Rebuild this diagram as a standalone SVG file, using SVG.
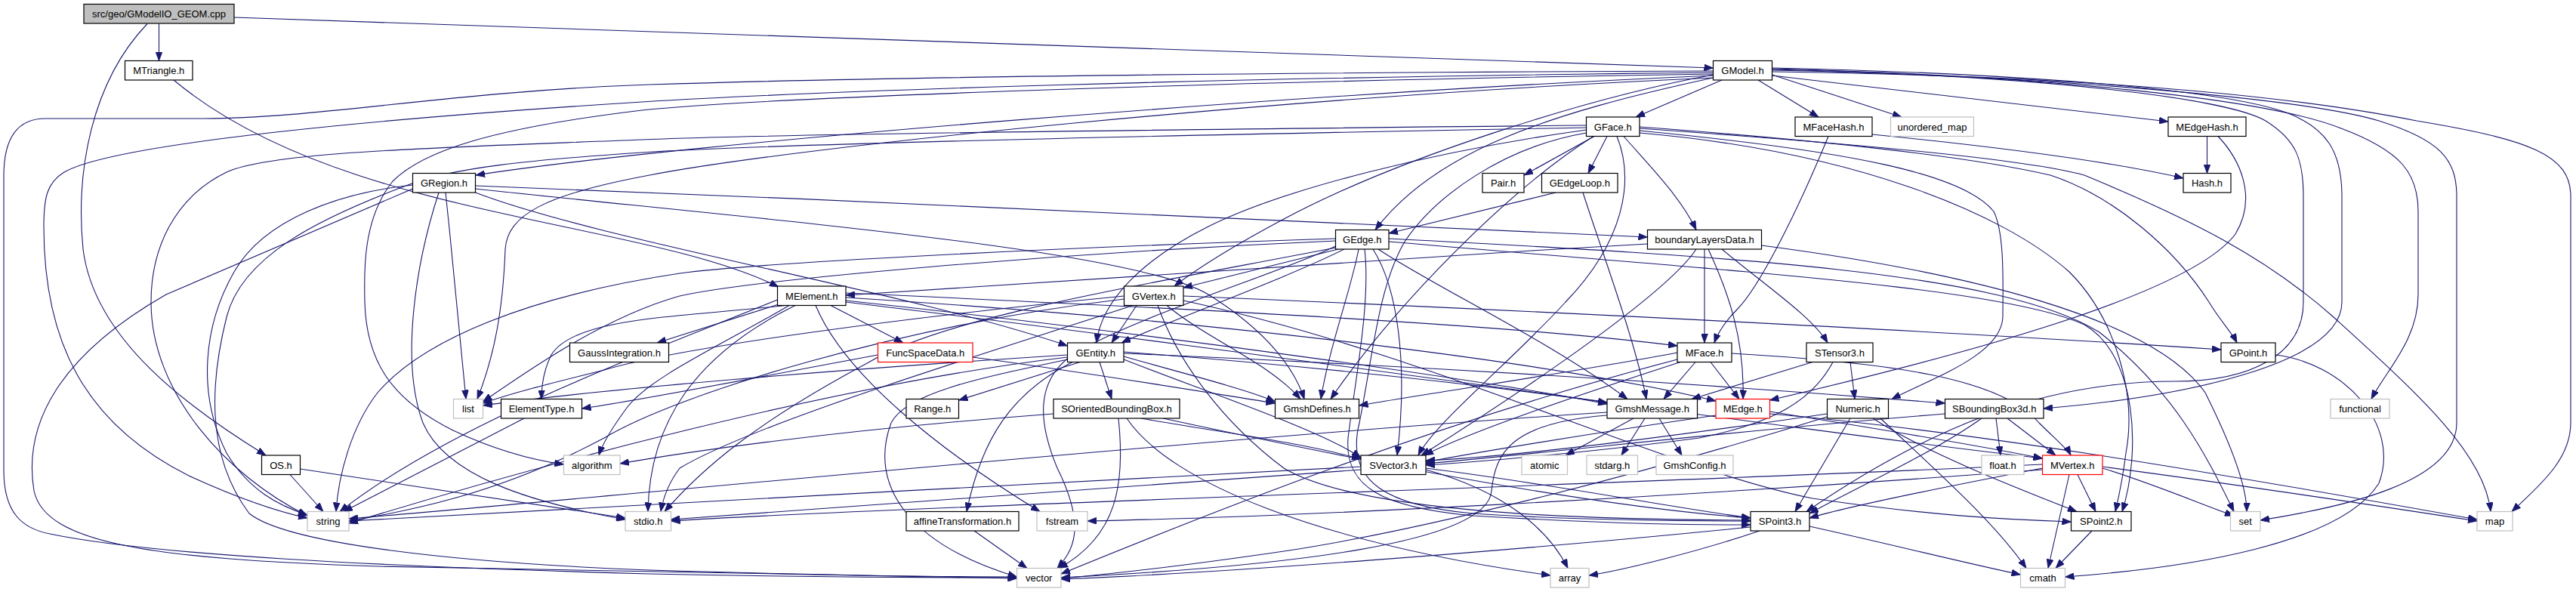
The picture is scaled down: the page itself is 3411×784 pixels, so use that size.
<svg xmlns="http://www.w3.org/2000/svg" width="3411" height="784" viewBox="0 0 3411 784">
<style>
.node rect{fill:#ffffff;stroke:#000000;stroke-width:1.2}
.node.sys rect{stroke:#bfbfbf}
.node.red rect{stroke:#ff0000}
.node.root rect{fill:#bfbfbf}
.node text{font-family:"Liberation Sans",Arial,sans-serif;font-size:13px;fill:#000000;text-anchor:middle}
#edges path{fill:none;stroke:#191970;stroke-width:1.1;marker-end:url(#ah)}
</style>
<defs>
<marker id="ah" markerUnits="userSpaceOnUse" markerWidth="12" markerHeight="9" viewBox="0 0 12 9" refX="12" refY="4.5" orient="auto"><path d="M0,0 L12,4.5 L0,9 z" fill="#191970" stroke="#191970" stroke-width="0.8"/></marker>
</defs>
<rect x="0" y="0" width="3411" height="784" fill="#ffffff"/>
<g id="edges">
<path d="M210.5,31.5 L210.5,80.5"/>
<path d="M310,23 L2268.5,90"/>
<path d="M195,31.5 C120,110 100,230 110,330 C125,450 250,540 352,603"/>
<path d="M230,106 C450,290 850,290 1031,380"/>
<path d="M2280,106 L2166,155"/>
<path d="M2328,106 L2408,155"/>
<path d="M2346.5,99 L2518,155"/>
<path d="M2346.5,100 L2871,161"/>
<path d="M2268.5,100 C1700,125 900,190 630,232"/>
<path d="M2268.5,103 C1700,128 1050,195 860,232 C720,258 672,285 669,330 C666,410 655,470 632,528.5"/>
<path d="M2268.5,94 C1700,96 1200,101 860,112 C600,121 420,157 270,157 L60,157 C25,157 5,180 5,233 L5,623 C5,680 30,700 66,707 C200,735 500,750 860,760 C1100,765 1250,765 1346.5,765"/>
<path d="M2268.5,96 C1600,103 1100,120 850,135 C500,157 150,190 85,228 C62,242 58,262 58,300 C58,450 110,560 250,630 C320,662 370,678 407,686"/>
<path d="M2268.5,98 C1600,108 1000,130 850,146 C650,170 560,200 520,240 C480,290 482,360 483,400 C485,480 520,530 600,570 C660,598 710,610 746.5,615"/>
<path d="M2268.5,99 C2100,130 1850,210 1700,290 C1640,322 1590,352 1555,379"/>
<path d="M2268.5,103 C2050,150 1900,200 1821,304.5"/>
<path d="M2346.5,95 C2700,100 3000,120 3200,160 C3350,185 3404,205 3404,260 L3404,560 C3404,610 3360,645 3326,677.5"/>
<path d="M2346.5,93 C2700,100 3050,130 3150,160 C3230,185 3253,210 3253,260 L3253,560 C3253,640 3100,672 2993,689"/>
<path d="M2346.5,91 C2700,100 3000,130 3100,170 C3180,200 3202,230 3202,280 L3202,390 C3202,450 3160,490 3140,528.5"/>
<path d="M2346.5,90 C2700,98 2950,120 3030,150 C3080,170 3101,200 3101,260 L3101,400 C3101,480 2900,525 2706,541"/>
<path d="M2346.5,92 C2700,100 2950,130 3000,160 C3040,185 3050,210 3050,260 L3050,400 C3050,470 2980,505 2880,505 C2700,505 2550,570 2392,677.5"/>
<path d="M2111,180.5 L2018,232"/>
<path d="M2128,180.5 L2103,229.5"/>
<path d="M2150,180.5 C2180,215 2225,260 2246,304.5"/>
<path d="M2100.5,172 C1900,200 1700,250 1600,300 C1510,345 1458,400 1452,454"/>
<path d="M2141,180.5 C2165,240 2150,320 2073,400 C2000,480 1900,560 1878,603"/>
<path d="M2100.5,166 C1500,172 1000,178 850,185 C600,195 360,200 300,228 C230,262 200,330 200,400 C200,520 300,630 407,683"/>
<path d="M2100.5,169 C1500,180 1000,192 850,202 C700,212 600,222 540,245 C420,290 320,340 300,420 C280,500 270,600 330,680 C380,720 600,745 860,755 C1100,762 1250,764 1346.5,764"/>
<path d="M2171,168 C2400,185 2600,205 2715,232 C2800,260 2880,330 2925,400 C2940,425 2955,440 2962,454"/>
<path d="M2171,170 C2450,190 2680,210 2760,232 C2900,290 3000,340 3090,420 C3200,520 3290,600 3298,677.5"/>
<path d="M2171,173 C2450,200 2600,230 2640,280 C2655,310 2652,380 2652,420 C2650,470 2560,500 2505,528.5"/>
<path d="M2171,176 C2450,200 2650,280 2740,360 C2800,420 2830,520 2815,600 C2810,640 2805,660 2801,677.5"/>
<path d="M2110,180.5 C2000,250 1850,400 1762,528.5"/>
<path d="M2100.5,176 C1990,195 1900,260 1860,320 C1825,380 1818,470 1800,560 C1780,640 1840,670 1950,680 C2100,690 2250,690 2318,690"/>
<path d="M2060,255 L1839,309"/>
<path d="M2096,255 C2120,330 2165,450 2180,528.5"/>
<path d="M2479,178 C2650,195 2800,215 2891,236"/>
<path d="M2421,180.5 C2380,280 2330,380 2300,410 C2285,425 2275,440 2270,454"/>
<path d="M2922.5,180.5 L2922.5,229.5"/>
<path d="M2937,180.5 C2965,210 2990,260 2960,310 C2900,390 2600,470 2343.5,530"/>
<path d="M629.5,255 C800,320 1200,385 1413.5,458"/>
<path d="M629.5,246 C1200,268 1900,300 2181.5,314"/>
<path d="M629.5,250 C1000,290 1500,330 1600,390 C1680,440 1715,490 1727,528.5"/>
<path d="M590,255 C600,350 610,450 617,528.5"/>
<path d="M546.5,250 L220,390 C80,470 30,560 45,650 C60,720 200,740 500,750 C900,758 1200,762 1346.5,766"/>
<path d="M546.5,245 C450,255 350,290 310,360 C270,430 260,520 300,600 C330,650 370,670 407,682"/>
<path d="M581,255 C550,350 530,480 560,560 C590,630 700,665 828,688"/>
<path d="M1772,330 L1567,381"/>
<path d="M1780,330 C1700,370 1560,420 1485,454"/>
<path d="M1799,330 C1790,380 1760,460 1749,528.5"/>
<path d="M1818,330 C1850,380 1865,480 1850,603"/>
<path d="M1825,330 C1900,380 2050,450 2155,528.5"/>
<path d="M1839,320 C2300,360 2650,380 2760,430 C2830,470 2835,600 2810,677.5"/>
<path d="M1768.5,316 C1400,328 1000,348 900,362 C700,392 560,450 500,520 C465,565 448,630 445,677.5"/>
<path d="M1768.5,319 C1400,335 1000,370 900,392 C800,420 700,490 639.5,532"/>
<path d="M1768.5,326 C1700,360 1500,420 1420,470 C1370,505 1375,560 1400,620 C1440,700 1420,730 1400,752.5"/>
<path d="M1839,316 C2300,340 2650,360 2780,440 C2880,520 2920,600 2958,677.5"/>
<path d="M1768.5,328 C1500,380 1250,420 1150,480 C1000,560 930,620 880,677.5"/>
<path d="M1807,330 C1815,400 1795,500 1785,580 C1780,645 1830,672 1950,683 C2150,695 2250,695 2318,695"/>
<path d="M1505,404.5 L1472,454"/>
<path d="M1545,404.5 C1600,450 1680,480 1722,528.5"/>
<path d="M1567,392 C2000,410 2600,440 2941,463"/>
<path d="M1567,398 C1900,470 2200,620 2400,660 C2550,682 2650,688 2742.5,691"/>
<path d="M1533,404.5 C1560,480 1620,560 1700,620 C1800,680 2100,688 2318,689"/>
<path d="M1488.5,392 C1200,420 900,460 800,490 C720,510 680,520 639.5,534"/>
<path d="M1488.5,396 C1200,430 900,520 800,580 C650,660 520,680 462,690"/>
<path d="M1500,404.5 C1300,470 1000,560 900,620 C885,640 878,660 875,677.5"/>
<path d="M1430,479.5 L1269.5,530"/>
<path d="M1456,479.5 L1472,528.5"/>
<path d="M1420,479.5 C1340,520 1300,580 1280,677.5"/>
<path d="M1488,472 C1550,490 1650,515 1688.5,532"/>
<path d="M1488,466 C1800,490 2000,515 2128,533"/>
<path d="M1488,476 C1600,520 1750,570 1802,606"/>
<path d="M1488,468 C2000,490 2400,520 2575.5,534"/>
<path d="M1413.5,470 C1100,490 800,515 639.5,537"/>
<path d="M1413.5,473 C1100,510 700,620 462,693"/>
<path d="M1413.5,476 C1300,500 1200,520 1180,560 C1150,640 1200,720 1346.5,764"/>
<path d="M1031,403 L870,454"/>
<path d="M1100,404.5 L1196,454"/>
<path d="M1040,404.5 C900,420 760,420 730,470 C720,490 717,510 717,528.5"/>
<path d="M1045,404.5 C950,460 860,500 830,540 C808,570 797,590 793,603"/>
<path d="M1053,404.5 C920,470 860,560 858,677.5"/>
<path d="M1029.5,397 C850,470 600,560 450,677.5"/>
<path d="M1080,404.5 C1120,500 1250,600 1377,677.5"/>
<path d="M1120,388 C1600,410 2000,430 2221,458"/>
<path d="M1120,394 C1700,430 2100,490 2272,531"/>
<path d="M1120,398 C1600,450 2000,510 2128,535"/>
<path d="M1120,400 C1700,470 2300,560 2704.5,607"/>
<path d="M1162.5,470 C1000,500 850,530 770.5,541"/>
<path d="M1288,473 C1450,495 1600,520 1688.5,534"/>
<path d="M2181.5,323 C1800,345 1400,370 1120,391"/>
<path d="M2257,330 L2257,454"/>
<path d="M2262,330 C2290,390 2310,450 2308,528.5"/>
<path d="M2280,330 C2340,380 2400,420 2420,454"/>
<path d="M2246,330 C2200,400 1950,560 1882,603"/>
<path d="M2332.5,325 C2600,360 2850,420 2920,520 C2960,600 2975,650 2975,677.5"/>
<path d="M2265,479.5 L2303,528.5"/>
<path d="M2245,479.5 L2203,528.5"/>
<path d="M2225,479.5 C2100,520 1950,570 1886,603"/>
<path d="M2221,467 C2100,490 1900,520 1799.5,537"/>
<path d="M2221,476 C1900,560 1600,680 1405,760"/>
<path d="M2293,468 C2500,480 2650,500 2700,560 C2720,580 2738,595 2742,603"/>
<path d="M2343.5,545 C2500,570 2620,590 2704.5,607"/>
<path d="M2272,550 C2100,575 1950,600 1888,612"/>
<path d="M2343.5,548 C2600,570 2900,620 3280,688"/>
<path d="M2450,479.5 L2456,528.5"/>
<path d="M2427,479.5 C2400,530 2350,560 2250,580 C2100,600 1950,612 1888,616"/>
<path d="M2400,479.5 L2240,528.5"/>
<path d="M2450,554 L2377,677.5"/>
<path d="M2480,554 C2550,600 2680,650 2750,677.5"/>
<path d="M2419.5,548 C2200,580 2000,605 1888,610"/>
<path d="M2490,554 C2560,620 2640,690 2683,752.5"/>
<path d="M2419.5,552 C2200,620 1900,700 1700,730 C1550,752 1450,762 1405,766"/>
<path d="M2643,554 L2649,603"/>
<path d="M2658,554 L2722,603"/>
<path d="M2624,554 C2560,600 2450,650 2396,680"/>
<path d="M2575.5,548 C2300,570 2050,600 1888,614"/>
<path d="M1395,548 C1100,570 900,600 821,614"/>
<path d="M1481,554 C1490,640 1480,710 1402,752.5"/>
<path d="M1511,554 C1600,570 1720,585 1802,608"/>
<path d="M1540,554 C1800,610 2100,670 2318,686"/>
<path d="M1492,554 C1550,640 1750,720 2053,762"/>
<path d="M1290,703 L1360,752.5"/>
<path d="M1888,620 C2050,640 2200,670 2318,686"/>
<path d="M1888,622 C1990,650 2050,700 2076,752.5"/>
<path d="M1802,618 C1400,640 800,670 462,690"/>
<path d="M1802,622 C1400,650 1100,670 888.5,688"/>
<path d="M2163,554 L2073,603"/>
<path d="M2178,554 L2147,603"/>
<path d="M2197,554 L2227,603"/>
<path d="M2128,546 C1600,580 900,650 462,687"/>
<path d="M2128,550 C2000,560 1980,600 1975,650 C1970,720 1700,750 1405,765"/>
<path d="M2318,698 C2000,730 1600,760 1405,767"/>
<path d="M2330,703 C2250,730 2150,755 2104,762"/>
<path d="M2396,697 C2500,720 2600,745 2675.5,761"/>
<path d="M2770,703 L2722,752.5"/>
<path d="M2751,628.5 L2775,677.5"/>
<path d="M2704.5,620 C2600,640 2450,670 2396,686"/>
<path d="M2784,620 C2850,640 2920,670 2958,683"/>
<path d="M2784,618 C2950,640 3150,670 3280,690"/>
<path d="M2740,628.5 L2712,752.5"/>
<path d="M2704.5,615 C2200,640 1200,670 888.5,690"/>
<path d="M2704.5,622 C2200,660 1700,685 1440,690"/>
<path d="M384,628.5 L428,677.5"/>
<path d="M397.5,621 L828,686"/>
<path d="M694,554 L455,677.5"/>
<path d="M3013,470 C3100,480 3180,560 3150,640 C3100,720 2900,752 2734.5,764"/>
</g>
<g id="n_root" class="node root"><rect x="111" y="5.5" width="199" height="25.5"/><text x="210.5" y="23">src/geo/GModelIO_GEOM.cpp</text></g>
<g id="n_MTriangle" class="node"><rect x="165.5" y="80.5" width="89.5" height="25.5"/><text x="210.25" y="98">MTriangle.h</text></g>
<g id="n_GModel" class="node"><rect x="2268.5" y="80.5" width="78" height="25.5"/><text x="2307.5" y="98">GModel.h</text></g>
<g id="n_GFace" class="node"><rect x="2100.5" y="155" width="70.5" height="25.5"/><text x="2135.75" y="172.5">GFace.h</text></g>
<g id="n_MFaceHash" class="node"><rect x="2377" y="155" width="102" height="25.5"/><text x="2428" y="172.5">MFaceHash.h</text></g>
<g id="n_unordered_map" class="node sys"><rect x="2503.5" y="155" width="110" height="25.5"/><text x="2558.5" y="172.5">unordered_map</text></g>
<g id="n_MEdgeHash" class="node"><rect x="2871" y="155" width="103" height="25.5"/><text x="2922.5" y="172.5">MEdgeHash.h</text></g>
<g id="n_GRegion" class="node"><rect x="546.5" y="229.5" width="83" height="25.5"/><text x="588" y="247">GRegion.h</text></g>
<g id="n_Pair" class="node"><rect x="1963" y="229.5" width="55" height="25.5"/><text x="1990.5" y="247">Pair.h</text></g>
<g id="n_GEdgeLoop" class="node"><rect x="2041.5" y="229.5" width="100.5" height="25.5"/><text x="2091.75" y="247">GEdgeLoop.h</text></g>
<g id="n_Hash" class="node"><rect x="2891" y="229.5" width="63" height="25.5"/><text x="2922.5" y="247">Hash.h</text></g>
<g id="n_GEdge" class="node"><rect x="1768.5" y="304.5" width="70.5" height="25.5"/><text x="1803.75" y="322">GEdge.h</text></g>
<g id="n_boundaryLayersData" class="node"><rect x="2181.5" y="304.5" width="151" height="25.5"/><text x="2257" y="322">boundaryLayersData.h</text></g>
<g id="n_MElement" class="node"><rect x="1029.5" y="379" width="90.5" height="25.5"/><text x="1074.75" y="396.5">MElement.h</text></g>
<g id="n_GVertex" class="node"><rect x="1488.5" y="379" width="78.5" height="25.5"/><text x="1527.75" y="396.5">GVertex.h</text></g>
<g id="n_GaussIntegration" class="node"><rect x="754.5" y="454" width="131" height="25.5"/><text x="820" y="471.5">GaussIntegration.h</text></g>
<g id="n_FuncSpaceData" class="node red"><rect x="1162.5" y="454" width="125.5" height="25.5"/><text x="1225.25" y="471.5">FuncSpaceData.h</text></g>
<g id="n_GEntity" class="node"><rect x="1413.5" y="454" width="74.5" height="25.5"/><text x="1450.75" y="471.5">GEntity.h</text></g>
<g id="n_MFace" class="node"><rect x="2221" y="454" width="72" height="25.5"/><text x="2257" y="471.5">MFace.h</text></g>
<g id="n_STensor3" class="node"><rect x="2392" y="454" width="88" height="25.5"/><text x="2436" y="471.5">STensor3.h</text></g>
<g id="n_GPoint" class="node"><rect x="2941" y="454" width="72" height="25.5"/><text x="2977" y="471.5">GPoint.h</text></g>
<g id="n_list" class="node sys"><rect x="600.5" y="528.5" width="39" height="25.5"/><text x="620" y="546">list</text></g>
<g id="n_ElementType" class="node"><rect x="663.5" y="528.5" width="107" height="25.5"/><text x="717" y="546">ElementType.h</text></g>
<g id="n_Range" class="node"><rect x="1200" y="528.5" width="69.5" height="25.5"/><text x="1234.75" y="546">Range.h</text></g>
<g id="n_SOrientedBoundingBox" class="node"><rect x="1395" y="528.5" width="167" height="25.5"/><text x="1478.5" y="546">SOrientedBoundingBox.h</text></g>
<g id="n_GmshDefines" class="node"><rect x="1688.5" y="528.5" width="111" height="25.5"/><text x="1744" y="546">GmshDefines.h</text></g>
<g id="n_GmshMessage" class="node"><rect x="2128" y="528.5" width="119.5" height="25.5"/><text x="2187.75" y="546">GmshMessage.h</text></g>
<g id="n_MEdge" class="node red"><rect x="2272" y="528.5" width="71.5" height="25.5"/><text x="2307.75" y="546">MEdge.h</text></g>
<g id="n_Numeric" class="node"><rect x="2419.5" y="528.5" width="81" height="25.5"/><text x="2460" y="546">Numeric.h</text></g>
<g id="n_SBoundingBox3d" class="node"><rect x="2575.5" y="528.5" width="130.5" height="25.5"/><text x="2640.75" y="546">SBoundingBox3d.h</text></g>
<g id="n_functional" class="node sys"><rect x="3086" y="528.5" width="78" height="25.5"/><text x="3125" y="546">functional</text></g>
<g id="n_OS" class="node"><rect x="346.5" y="603" width="51" height="25.5"/><text x="372" y="620.5">OS.h</text></g>
<g id="n_algorithm" class="node sys"><rect x="746.5" y="603" width="74.5" height="25.5"/><text x="783.75" y="620.5">algorithm</text></g>
<g id="n_SVector3" class="node"><rect x="1802" y="603" width="86" height="25.5"/><text x="1845" y="620.5">SVector3.h</text></g>
<g id="n_atomic" class="node sys"><rect x="2015" y="603" width="60.5" height="25.5"/><text x="2045.25" y="620.5">atomic</text></g>
<g id="n_stdarg" class="node sys"><rect x="2101" y="603" width="67.5" height="25.5"/><text x="2134.75" y="620.5">stdarg.h</text></g>
<g id="n_GmshConfig" class="node sys"><rect x="2193" y="603" width="102" height="25.5"/><text x="2244" y="620.5">GmshConfig.h</text></g>
<g id="n_float" class="node sys"><rect x="2624" y="603" width="56" height="25.5"/><text x="2652" y="620.5">float.h</text></g>
<g id="n_MVertex" class="node red"><rect x="2704.5" y="603" width="79.5" height="25.5"/><text x="2744.25" y="620.5">MVertex.h</text></g>
<g id="n_string" class="node sys"><rect x="407" y="677.5" width="55" height="25.5"/><text x="434.5" y="695">string</text></g>
<g id="n_stdio" class="node sys"><rect x="828" y="677.5" width="60.5" height="25.5"/><text x="858.25" y="695">stdio.h</text></g>
<g id="n_affineTransformation" class="node"><rect x="1200" y="677.5" width="149" height="25.5"/><text x="1274.5" y="695">affineTransformation.h</text></g>
<g id="n_fstream" class="node sys"><rect x="1373" y="677.5" width="67" height="25.5"/><text x="1406.5" y="695">fstream</text></g>
<g id="n_SPoint3" class="node"><rect x="2318" y="677.5" width="78" height="25.5"/><text x="2357" y="695">SPoint3.h</text></g>
<g id="n_SPoint2" class="node"><rect x="2742.5" y="677.5" width="79.5" height="25.5"/><text x="2782.25" y="695">SPoint2.h</text></g>
<g id="n_set" class="node sys"><rect x="2953.5" y="677.5" width="39.5" height="25.5"/><text x="2973.25" y="695">set</text></g>
<g id="n_map" class="node sys"><rect x="3280" y="677.5" width="47" height="25.5"/><text x="3303.5" y="695">map</text></g>
<g id="n_vector" class="node sys"><rect x="1346.5" y="752.5" width="58.5" height="25.5"/><text x="1375.75" y="770">vector</text></g>
<g id="n_array" class="node sys"><rect x="2053" y="752.5" width="51" height="25.5"/><text x="2078.5" y="770">array</text></g>
<g id="n_cmath" class="node sys"><rect x="2675.5" y="752.5" width="59" height="25.5"/><text x="2705" y="770">cmath</text></g>
</svg>
